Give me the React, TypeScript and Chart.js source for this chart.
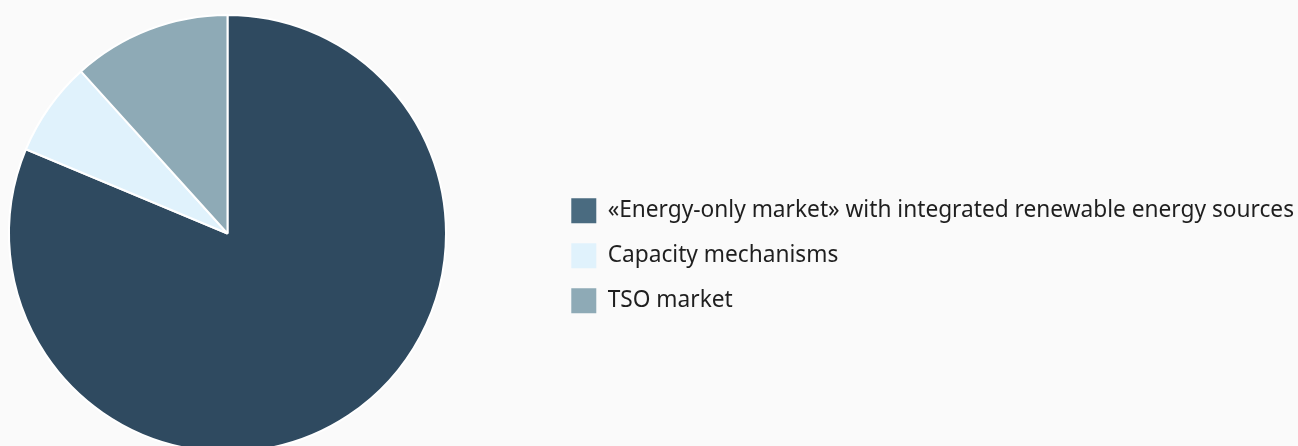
import React, { useEffect, useRef } from "react";
import { Chart, registerables } from "chart.js";

Chart.register(...registerables);

const categories = [
  "«Energy-only market» with integrated renewable energy sources",
  "Capacity mechanisms",
  "TSO market",
];
const shares = [81.3, 7.0, 11.7];
const sliceColors = ["#2f4a60", "#e0f2fc", "#8eaab6"];
const legendColors = ["#4a6b80", "#e0f2fc", "#8eaab6"];

const FONT_FAMILY = "'Noto Sans', sans-serif";
const FONT_SIZE = 22.7;
const TEXT_COLOR = "#1f1f1f";

// keep the pie as a square on the left of the area the legend leaves
const pieLeftSquare = {
  id: "pieLeftSquare",
  afterLayout(chart: any) {
    const a = chart.chartArea;
    const size = Math.min(a.right - a.left, a.bottom - a.top);
    a.right = a.left + size;
    a.width = size;
  },
};

export default function App() {
  const ref = useRef<HTMLCanvasElement | null>(null);

  useEffect(() => {
    if (!ref.current) return;
    const chart = new Chart(ref.current, {
      type: "pie",
      data: {
        labels: categories,
        datasets: [
          {
            data: shares,
            backgroundColor: sliceColors,
            borderColor: "#ffffff",
            borderWidth: 2,
          },
        ],
      },
      options: {
        animation: false,
        responsive: true,
        maintainAspectRatio: false,
        layout: { padding: { left: 8, top: 14, bottom: 14, right: -6 } },
        plugins: {
          tooltip: { enabled: false },
          legend: {
            position: "right",
            maxWidth: 900,
            title: {
              display: true,
              text: "",
              padding: { top: 30, bottom: 0 },
              font: { size: 12 },
            },
            labels: {
              boxWidth: 25,
              boxHeight: 25,
              padding: 20,
              color: TEXT_COLOR,
              font: { family: FONT_FAMILY, size: FONT_SIZE },
              generateLabels: () =>
                categories.map((text, i) => ({
                  text,
                  fillStyle: legendColors[i],
                  strokeStyle: legendColors[i],
                  fontColor: TEXT_COLOR,
                  lineWidth: 0,
                  hidden: false,
                  index: i,
                })),
            },
          },
        },
      },
      plugins: [pieLeftSquare],
    });
    return () => chart.destroy();
  }, []);

  return (
    <div
      style={{
        position: "fixed",
        left: 0,
        top: 0,
        width: "100vw",
        height: "100vh",
        overflow: "hidden",
        background: "#fafafa",
      }}
    >
      <div style={{ position: "relative", width: 1298, height: 467 }}>
        <canvas ref={ref} />
      </div>
    </div>
  );
}
